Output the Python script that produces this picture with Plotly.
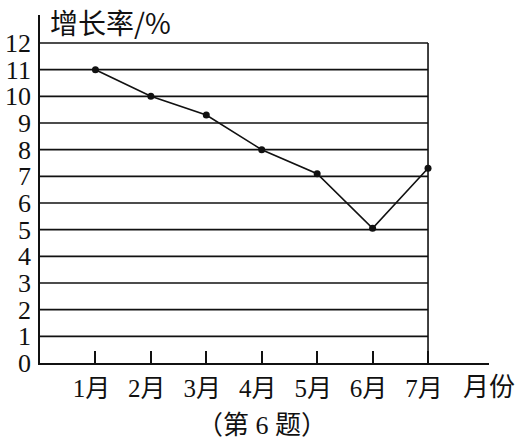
import plotly.graph_objects as go

months = [1, 2, 3, 4, 5, 6, 7]
month_labels = ["1月", "2月", "3月", "4月", "5月", "6月", "7月"]
growth = [11.0, 10.0, 9.3, 8.0, 7.1, 5.05, 7.3]
y_ticks = list(range(0, 13))

FONT = "Liberation Serif, Noto Sans CJK SC, serif"

fig = go.Figure()

# horizontal grid lines (only to the 7月 column) and right border
for v in y_ticks[1:]:
    fig.add_shape(type="line", xref="x", yref="y", x0=0, x1=months[-1], y0=v, y1=v,
                  line=dict(color="#111", width=1.6), layer="below")
fig.add_shape(type="line", xref="x", yref="y", x0=months[-1], x1=months[-1],
              y0=0, y1=y_ticks[-1], line=dict(color="#111", width=1.6), layer="below")

fig.add_trace(go.Scatter(
    x=months, y=growth, mode="lines+markers",
    line=dict(color="#111", width=1.6),
    marker=dict(color="#111", size=7),
    showlegend=False, hoverinfo="skip",
))

fig.update_layout(
    width=526, height=446,
    margin=dict(l=40, r=37, t=15, b=83),
    paper_bgcolor="white", plot_bgcolor="white",
    font=dict(family=FONT, color="#111"),
    xaxis=dict(
        range=[0, 8.1], tickmode="array", tickvals=months, ticktext=month_labels,
        ticks="inside", ticklen=12, tickwidth=1.6, tickcolor="#111",
        showline=True, linecolor="#111", linewidth=1.8,
        showgrid=False, zeroline=False, automargin=False,
        tickfont=dict(size=25, family=FONT), ticklabelstandoff=2,
        ticklabelshift=-4,
    ),
    yaxis=dict(
        range=[0, 13.05], tickmode="array", tickvals=y_ticks,
        ticktext=[str(v) for v in y_ticks],
        ticks="", showline=True, linecolor="#111", linewidth=1.8,
        showgrid=False, zeroline=False, automargin=False,
        tickfont=dict(size=26, family=FONT), ticklabelstandoff=2,
    ),
    annotations=[
        dict(text="增长率/%", xref="paper", yref="paper", x=(48 - 40) / 449, y=1.0,
             xanchor="left", yanchor="middle", yshift=-7, showarrow=False,
             font=dict(size=28, family="Noto Sans CJK SC, serif", color="#111")),
        dict(text="月份", xref="paper", yref="paper", x=(489 - 40) / 449, y=0,
             xanchor="center", yanchor="middle", yshift=-24, showarrow=False,
             font=dict(size=26, family=FONT, color="#111")),
        dict(text="（第 6 题）", xref="paper", yref="paper", x=(262 - 40) / 449, y=0,
             xanchor="center", yanchor="middle", yshift=-62, showarrow=False,
             font=dict(size=26, family=FONT, color="#111")),
    ],
)

fig.write_html("out.html", config={"displayModeBar": False},
               post_script="document.body.style.margin='0';document.body.style.padding='0';")
